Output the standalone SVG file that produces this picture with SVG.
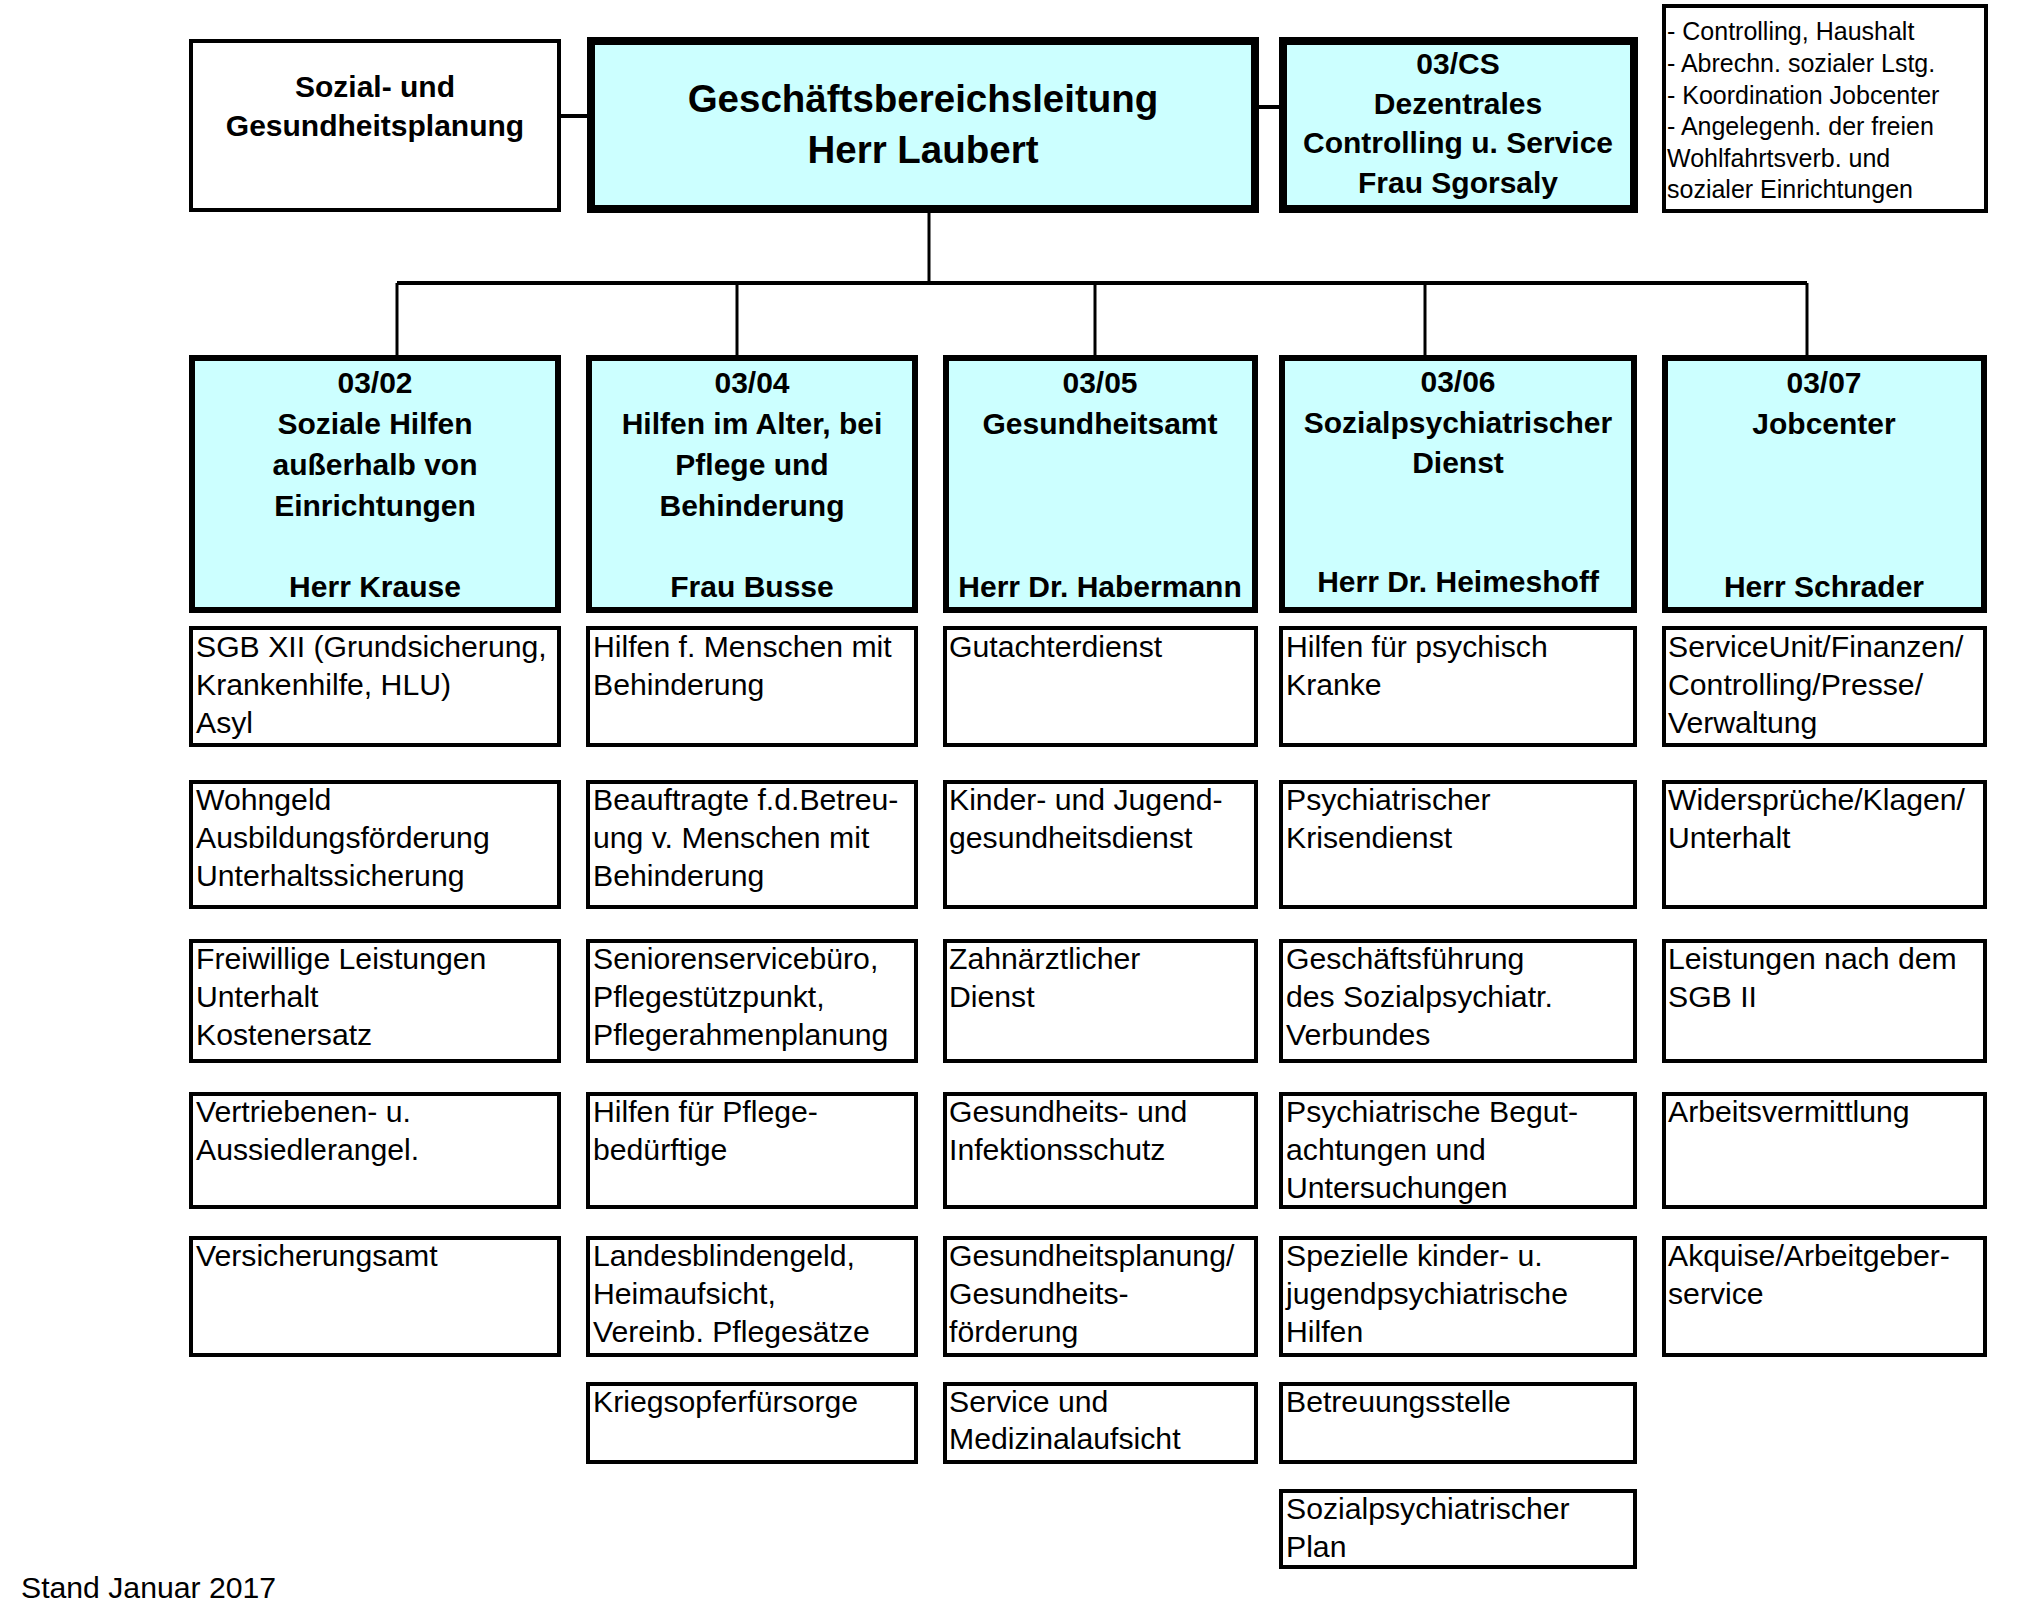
<svg xmlns="http://www.w3.org/2000/svg" width="2025" height="1613" viewBox="0 0 2025 1613">
<style>
.bg{fill:#ffffff}
.head{fill:#CCFFFF;stroke:#000;stroke-width:8}
.dept{fill:#CCFFFF;stroke:#000;stroke-width:6}
.plain{fill:#ffffff;stroke:#000;stroke-width:4}
.ln{stroke:#000;stroke-width:4;fill:none}
.ln3{stroke:#000;stroke-width:3;fill:none}
text{font-family:"Liberation Sans",Arial,sans-serif;fill:#000}
.b{font-weight:bold;font-size:30px;text-anchor:middle}
.bl{font-weight:bold;font-size:38.5px;text-anchor:middle}
.t{font-size:30.2px}
.n{font-size:25px}
</style>
<rect class="bg" x="0" y="0" width="2025" height="1613"/>

<g id="connectors">
<line class="ln" x1="561" y1="116" x2="587" y2="116"/>
<line class="ln" x1="1259" y1="107" x2="1279" y2="107"/>
<line class="ln3" x1="929" y1="213" x2="929" y2="283"/>
<line class="ln" x1="397" y1="283" x2="1807" y2="283"/>
<line class="ln3" x1="397" y1="283" x2="397" y2="355"/>
<line class="ln3" x1="737" y1="283" x2="737" y2="355"/>
<line class="ln3" x1="1095" y1="283" x2="1095" y2="355"/>
<line class="ln3" x1="1425" y1="283" x2="1425" y2="355"/>
<line class="ln3" x1="1807" y1="283" x2="1807" y2="355"/>
</g>

<g id="planung">
<rect class="plain" x="191" y="41" width="368" height="169"/>
<text class="b" x="375" y="97">Sozial- und</text>
<text class="b" x="375" y="136">Gesundheitsplanung</text>
</g>

<g id="leitung">
<rect class="head" x="591" y="41" width="664" height="168"/>
<text class="bl" x="923" y="112">Geschäftsbereichsleitung</text>
<text class="bl" x="923" y="163">Herr Laubert</text>
</g>

<g id="cs">
<rect class="head" x="1283" y="41" width="351" height="168"/>
<text class="b" x="1458" y="74">03/CS</text>
<text class="b" x="1458" y="114">Dezentrales</text>
<text class="b" x="1458" y="153">Controlling u. Service</text>
<text class="b" x="1458" y="193">Frau Sgorsaly</text>
</g>

<g id="note">
<rect class="plain" x="1664" y="6" width="322" height="205"/>
<text class="n" x="1667" y="40">- Controlling, Haushalt</text>
<text class="n" x="1667" y="72">- Abrechn. sozialer Lstg.</text>
<text class="n" x="1667" y="104">- Koordination Jobcenter</text>
<text class="n" x="1667" y="135">- Angelegenh. der freien</text>
<text class="n" x="1667" y="167">Wohlfahrtsverb. und</text>
<text class="n" x="1667" y="198">sozialer Einrichtungen</text>
</g>

<g id="d0302">
<rect class="dept" x="192" y="358" width="366" height="252"/>
<text class="b" x="375" y="393">03/02</text>
<text class="b" x="375" y="434">Soziale Hilfen</text>
<text class="b" x="375" y="475">außerhalb von</text>
<text class="b" x="375" y="516">Einrichtungen</text>
<text class="b" x="375" y="597">Herr Krause</text>
</g>
<g id="d0304">
<rect class="dept" x="589" y="358" width="326" height="252"/>
<text class="b" x="752" y="393">03/04</text>
<text class="b" x="752" y="434">Hilfen im Alter, bei</text>
<text class="b" x="752" y="475">Pflege und</text>
<text class="b" x="752" y="516">Behinderung</text>
<text class="b" x="752" y="597">Frau Busse</text>
</g>
<g id="d0305">
<rect class="dept" x="946" y="358" width="309" height="252"/>
<text class="b" x="1100" y="393">03/05</text>
<text class="b" x="1100" y="434">Gesundheitsamt</text>
<text class="b" x="1100" y="597">Herr Dr. Habermann</text>
</g>
<g id="d0306">
<rect class="dept" x="1282" y="358" width="352" height="252"/>
<text class="b" x="1458" y="392">03/06</text>
<text class="b" x="1458" y="433">Sozialpsychiatrischer</text>
<text class="b" x="1458" y="473">Dienst</text>
<text class="b" x="1458" y="592">Herr Dr. Heimeshoff</text>
</g>
<g id="d0307">
<rect class="dept" x="1665" y="358" width="319" height="252"/>
<text class="b" x="1824" y="393">03/07</text>
<text class="b" x="1824" y="434">Jobcenter</text>
<text class="b" x="1824" y="597">Herr Schrader</text>
</g>

<!-- column 1 -->
<g id="c1r1"><rect class="plain" x="191" y="628" width="368" height="117"/>
<text class="t" x="196" y="657">SGB XII (Grundsicherung,</text><text class="t" x="196" y="695">Krankenhilfe, HLU)</text><text class="t" x="196" y="733">Asyl</text></g>
<g id="c1r2"><rect class="plain" x="191" y="782" width="368" height="125"/>
<text class="t" x="196" y="810">Wohngeld</text><text class="t" x="196" y="848">Ausbildungsförderung</text><text class="t" x="196" y="886">Unterhaltssicherung</text></g>
<g id="c1r3"><rect class="plain" x="191" y="941" width="368" height="120"/>
<text class="t" x="196" y="969">Freiwillige Leistungen</text><text class="t" x="196" y="1007">Unterhalt</text><text class="t" x="196" y="1045">Kostenersatz</text></g>
<g id="c1r4"><rect class="plain" x="191" y="1094" width="368" height="113"/>
<text class="t" x="196" y="1122">Vertriebenen- u.</text><text class="t" x="196" y="1160">Aussiedlerangel.</text></g>
<g id="c1r5"><rect class="plain" x="191" y="1238" width="368" height="117"/>
<text class="t" x="196" y="1266">Versicherungsamt</text></g>

<!-- column 2 -->
<g id="c2r1"><rect class="plain" x="588" y="628" width="328" height="117"/>
<text class="t" x="593" y="657">Hilfen f. Menschen mit</text><text class="t" x="593" y="695">Behinderung</text></g>
<g id="c2r2"><rect class="plain" x="588" y="782" width="328" height="125"/>
<text class="t" x="593" y="810">Beauftragte f.d.Betreu-</text><text class="t" x="593" y="848">ung v. Menschen mit</text><text class="t" x="593" y="886">Behinderung</text></g>
<g id="c2r3"><rect class="plain" x="588" y="941" width="328" height="120"/>
<text class="t" x="593" y="969">Seniorenservicebüro,</text><text class="t" x="593" y="1007">Pflegestützpunkt,</text><text class="t" x="593" y="1045">Pflegerahmenplanung</text></g>
<g id="c2r4"><rect class="plain" x="588" y="1094" width="328" height="113"/>
<text class="t" x="593" y="1122">Hilfen für Pflege-</text><text class="t" x="593" y="1160">bedürftige</text></g>
<g id="c2r5"><rect class="plain" x="588" y="1238" width="328" height="117"/>
<text class="t" x="593" y="1266">Landesblindengeld,</text><text class="t" x="593" y="1304">Heimaufsicht,</text><text class="t" x="593" y="1342">Vereinb. Pflegesätze</text></g>
<g id="c2r6"><rect class="plain" x="588" y="1384" width="328" height="78"/>
<text class="t" x="593" y="1412">Kriegsopferfürsorge</text></g>

<!-- column 3 -->
<g id="c3r1"><rect class="plain" x="945" y="628" width="311" height="117"/>
<text class="t" x="949" y="657">Gutachterdienst</text></g>
<g id="c3r2"><rect class="plain" x="945" y="782" width="311" height="125"/>
<text class="t" x="949" y="810">Kinder- und Jugend-</text><text class="t" x="949" y="848">gesundheitsdienst</text></g>
<g id="c3r3"><rect class="plain" x="945" y="941" width="311" height="120"/>
<text class="t" x="949" y="969">Zahnärztlicher</text><text class="t" x="949" y="1007">Dienst</text></g>
<g id="c3r4"><rect class="plain" x="945" y="1094" width="311" height="113"/>
<text class="t" x="949" y="1122">Gesundheits- und</text><text class="t" x="949" y="1160">Infektionsschutz</text></g>
<g id="c3r5"><rect class="plain" x="945" y="1238" width="311" height="117"/>
<text class="t" x="949" y="1266">Gesundheitsplanung/</text><text class="t" x="949" y="1304">Gesundheits-</text><text class="t" x="949" y="1342">förderung</text></g>
<g id="c3r6"><rect class="plain" x="945" y="1384" width="311" height="78"/>
<text class="t" x="949" y="1412">Service und</text><text class="t" x="949" y="1449">Medizinalaufsicht</text></g>

<!-- column 4 -->
<g id="c4r1"><rect class="plain" x="1281" y="628" width="354" height="117"/>
<text class="t" x="1286" y="657">Hilfen für psychisch</text><text class="t" x="1286" y="695">Kranke</text></g>
<g id="c4r2"><rect class="plain" x="1281" y="782" width="354" height="125"/>
<text class="t" x="1286" y="810">Psychiatrischer</text><text class="t" x="1286" y="848">Krisendienst</text></g>
<g id="c4r3"><rect class="plain" x="1281" y="941" width="354" height="120"/>
<text class="t" x="1286" y="969">Geschäftsführung</text><text class="t" x="1286" y="1007">des Sozialpsychiatr.</text><text class="t" x="1286" y="1045">Verbundes</text></g>
<g id="c4r4"><rect class="plain" x="1281" y="1094" width="354" height="113"/>
<text class="t" x="1286" y="1122">Psychiatrische Begut-</text><text class="t" x="1286" y="1160">achtungen und</text><text class="t" x="1286" y="1198">Untersuchungen</text></g>
<g id="c4r5"><rect class="plain" x="1281" y="1238" width="354" height="117"/>
<text class="t" x="1286" y="1266">Spezielle kinder- u.</text><text class="t" x="1286" y="1304">jugendpsychiatrische</text><text class="t" x="1286" y="1342">Hilfen</text></g>
<g id="c4r6"><rect class="plain" x="1281" y="1384" width="354" height="78"/>
<text class="t" x="1286" y="1412">Betreuungsstelle</text></g>
<g id="c4r7"><rect class="plain" x="1281" y="1491" width="354" height="76"/>
<text class="t" x="1286" y="1519">Sozialpsychiatrischer</text><text class="t" x="1286" y="1557">Plan</text></g>

<!-- column 5 -->
<g id="c5r1"><rect class="plain" x="1664" y="628" width="321" height="117"/>
<text class="t" x="1668" y="657">ServiceUnit/Finanzen/</text><text class="t" x="1668" y="695">Controlling/Presse/</text><text class="t" x="1668" y="733">Verwaltung</text></g>
<g id="c5r2"><rect class="plain" x="1664" y="782" width="321" height="125"/>
<text class="t" x="1668" y="810">Widersprüche/Klagen/</text><text class="t" x="1668" y="848">Unterhalt</text></g>
<g id="c5r3"><rect class="plain" x="1664" y="941" width="321" height="120"/>
<text class="t" x="1668" y="969">Leistungen nach dem</text><text class="t" x="1668" y="1007">SGB II</text></g>
<g id="c5r4"><rect class="plain" x="1664" y="1094" width="321" height="113"/>
<text class="t" x="1668" y="1122">Arbeitsvermittlung</text></g>
<g id="c5r5"><rect class="plain" x="1664" y="1238" width="321" height="117"/>
<text class="t" x="1668" y="1266">Akquise/Arbeitgeber-</text><text class="t" x="1668" y="1304">service</text></g>

<text class="t" x="21" y="1598">Stand Januar 2017</text>
</svg>
